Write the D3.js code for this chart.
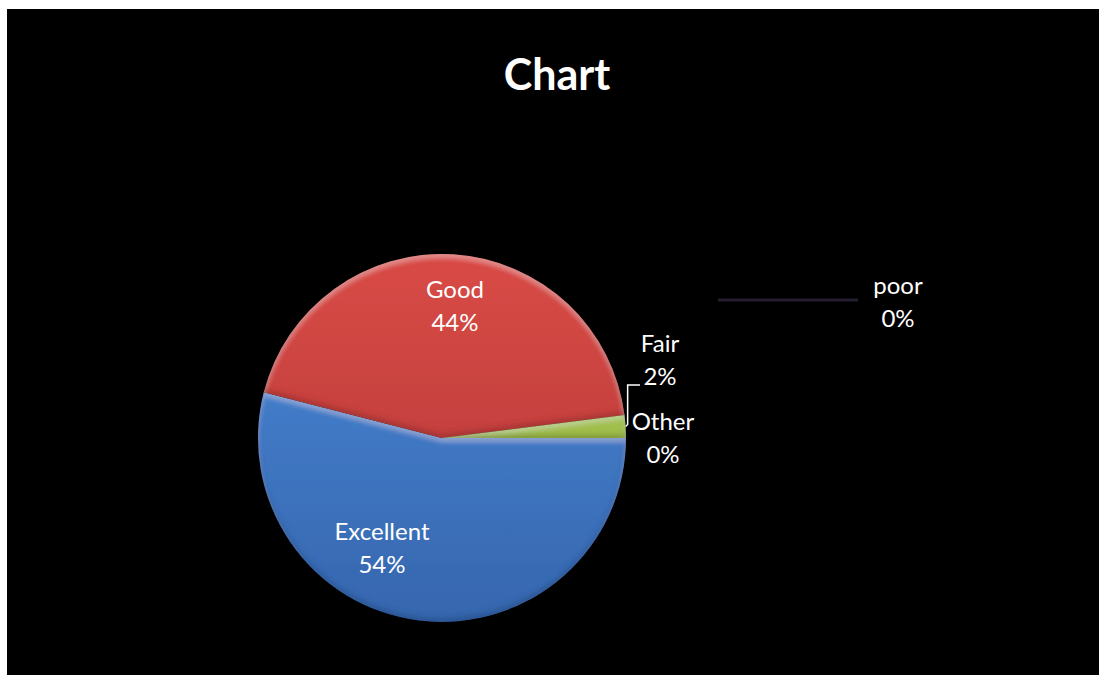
<!DOCTYPE html>
<html>
<head>
<meta charset="utf-8">
<script src="https://cdn.jsdelivr.net/npm/d3@7"></script>
<style>
  html, body { margin: 0; padding: 0; background: #fff; }
  svg { display: block; }
  text { font-family: Lato, "Open Sans", sans-serif; fill: #fff; }
</style>
</head>
<body>
<div id="chart"></div>
<script>
// Daten der Grafik
const categories = ["Excellent", "Good", "Fair", "Other", "poor"];
const values = [54, 44, 2, 0, 0];
const percentLabels = ["54%", "44%", "2%", "0%", "0%"];
const colorsTop = ["#4a89d8", "#d94a45", "#b2d05a", "#8064a2", "#4bacc6"];
const colorsBottom = ["#3666ae", "#b0383a", "#8eab3e", "#5f4a7a", "#3a8aa0"];
const chartTitle = "Chart";

const width = 1099, height = 675;
const cx = 442, cy = 438, radius = 184;

const svg = d3.select("#chart")
  .append("svg")
  .attr("width", width)
  .attr("height", height);

// schwarzer Hintergrund mit kleinem weissen Rand oben/links
svg.append("rect")
  .attr("x", 7).attr("y", 9)
  .attr("width", width - 7).attr("height", height - 9)
  .attr("fill", "#000");

const defs = svg.append("defs");

// Verlauf pro Segment (oben heller, unten dunkler)
colorsTop.forEach((c, i) => {
  const g = defs.append("linearGradient")
    .attr("id", "grad" + i)
    .attr("gradientUnits", "userSpaceOnUse")
    .attr("x1", 0).attr("y1", -radius)
    .attr("x2", 0).attr("y2", radius);
  g.append("stop").attr("offset", "0%").attr("stop-color", c);
  g.append("stop").attr("offset", "100%").attr("stop-color", colorsBottom[i]);
});

// Bevel-Effekt wie bei Excel (dezent)
const bevel = defs.append("filter").attr("id", "bevel")
  .attr("x", "-5%").attr("y", "-5%").attr("width", "110%").attr("height", "110%");
bevel.append("feGaussianBlur").attr("in", "SourceAlpha").attr("stdDeviation", 2.5).attr("result", "blur");
bevel.append("feOffset").attr("in", "blur").attr("dx", 0).attr("dy", 4).attr("result", "offDown");
bevel.append("feComposite").attr("in", "SourceAlpha").attr("in2", "offDown").attr("operator", "out").attr("result", "hlMask");
bevel.append("feFlood").attr("flood-color", "#ffffff").attr("flood-opacity", 0.22).attr("result", "white");
bevel.append("feComposite").attr("in", "white").attr("in2", "hlMask").attr("operator", "in").attr("result", "highlight");
bevel.append("feOffset").attr("in", "blur").attr("dx", 0).attr("dy", -4).attr("result", "offUp");
bevel.append("feComposite").attr("in", "SourceAlpha").attr("in2", "offUp").attr("operator", "out").attr("result", "shMask");
bevel.append("feFlood").attr("flood-color", "#000000").attr("flood-opacity", 0.3).attr("result", "black");
bevel.append("feComposite").attr("in", "black").attr("in2", "shMask").attr("operator", "in").attr("result", "shadow");
const merge = bevel.append("feMerge");
merge.append("feMergeNode").attr("in", "SourceGraphic");
merge.append("feMergeNode").attr("in", "highlight");
merge.append("feMergeNode").attr("in", "shadow");

// Titel
svg.append("text")
  .attr("x", 557).attr("y", 90)
  .attr("text-anchor", "middle")
  .style("font-size", "43px")
  .style("font-weight", "bold")
  .text(chartTitle);

const data = categories.map((c, i) => ({ name: c, value: values[i], label: percentLabels[i], i }));

// Excel beginnt hier bei 3 Uhr (90°) im Uhrzeigersinn
const pie = d3.pie()
  .value(d => d.value)
  .sort(null)
  .startAngle(Math.PI / 2)
  .endAngle(Math.PI / 2 + 2 * Math.PI);
const arcs = pie(data);

const arcGen = d3.arc().innerRadius(0).outerRadius(radius);

const pieG = svg.append("g").attr("transform", `translate(${cx}, ${cy})`);

pieG.selectAll("path")
  .data(arcs.filter(d => d.value > 0))
  .join("path")
  .attr("d", arcGen)
  .attr("fill", d => `url(#grad${d.data.i})`)
  .attr("filter", "url(#bevel)");

// Beschriftungen (Position relativ zum Mittelpunkt)
const labelPos = {
  "Excellent": [-60, 102],
  "Good": [13, -140],
  "Fair": [218, -86],
  "Other": [221, -8],
  "poor": [456, -144]
};
const lineGap = 33;

const labels = svg.append("g").attr("class", "labels");
arcs.forEach(a => {
  const p = labelPos[a.data.name];
  const t = labels.append("text")
    .attr("x", cx + p[0]).attr("y", cy + p[1])
    .attr("text-anchor", "middle")
    .style("font-size", "24px");
  t.append("tspan").attr("x", cx + p[0]).attr("dy", 0).text(a.data.name);
  t.append("tspan").attr("x", cx + p[0]).attr("dy", lineGap).text(a.data.label);
});

// Führungslinie für "Fair"
const fair = arcs.find(d => d.data.name === "Fair");
const mid = (fair.startAngle + fair.endAngle) / 2;
const sx = cx + radius * Math.sin(mid), sy = cy - radius * Math.cos(mid);
svg.append("path")
  .attr("d", d3.line()([[sx, sy], [sx + 2, sy - 2], [sx + 2, 385], [640, 385]]))
  .attr("fill", "none")
  .attr("stroke", "#fff")
  .attr("stroke-width", 1.5);

// Führungslinie für "poor" (dunkel)
svg.append("line")
  .attr("x1", 718).attr("y1", 300)
  .attr("x2", 858).attr("y2", 300)
  .attr("stroke", "#241d2e")
  .attr("stroke-width", 3);
</script>
</body>
</html>
